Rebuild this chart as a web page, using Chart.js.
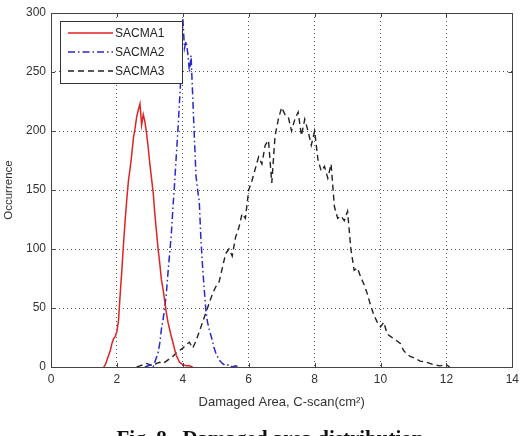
<!DOCTYPE html>
<html>
<head>
<meta charset="utf-8">
<script src="https://cdn.jsdelivr.net/npm/chart.js@4/dist/chart.umd.min.js"></script>
<style>
  html, body { margin: 0; padding: 0; background: #fff; }
  #wrap { width: 524px; height: 436px; }
</style>
</head>
<body>
<div id="wrap"><canvas id="damage-chart"></canvas></div>
<script>
// SACMA1 - damaged area (cm^2) and occurrence
const sacma1X = [1.60, 1.65, 1.70, 1.75, 1.80, 1.85, 1.90, 1.95, 2.00, 2.05, 2.10, 2.15, 2.20, 2.25,
  2.30, 2.35, 2.40, 2.45, 2.50, 2.55, 2.60, 2.65, 2.70, 2.75, 2.80, 2.85, 2.90, 2.95, 3.00, 3.05,
  3.10, 3.15, 3.20, 3.25, 3.30, 3.35, 3.40, 3.45, 3.50, 3.55, 3.60, 3.65, 3.70, 3.75, 3.80, 3.85,
  3.90, 3.95, 4.00, 4.10, 4.20, 4.30];
const sacma1Y = [0, 2, 6, 10, 14, 20, 24, 26, 30, 40, 62, 82, 104, 124,
  142, 158, 168, 180, 194, 202, 212, 218, 223, 205, 214, 208, 198, 186, 172, 160,
  148, 130, 115, 100, 88, 74, 66, 56, 46, 38, 32, 26, 21, 15, 10, 7,
  4, 3, 2, 1, 1, 0];

// SACMA2
const sacma2X = [2.85, 2.95, 3.05, 3.10, 3.15, 3.20, 3.25, 3.30, 3.35, 3.40, 3.45, 3.50, 3.55, 3.60,
  3.65, 3.70, 3.75, 3.80, 3.85, 3.90, 3.95, 4.00, 4.05, 4.10, 4.15, 4.20, 4.25, 4.30, 4.35, 4.40,
  4.45, 4.50, 4.55, 4.60, 4.65, 4.70, 4.75, 4.80, 4.85, 4.90, 4.95, 5.00, 5.05, 5.10, 5.20, 5.30,
  5.40, 5.50, 5.60, 5.70];
const sacma2Y = [0, 1, 2, 0, 4, 8, 12, 20, 32, 40, 50, 62, 80, 96,
  112, 135, 155, 178, 200, 225, 250, 296, 270, 276, 266, 250, 264, 230, 195, 162,
  150, 140, 108, 85, 66, 48, 38, 32, 27, 22, 16, 12, 9, 6, 3, 1,
  2, 0, 1, 0];

// SACMA3
const sacma3X = [2.6, 2.7, 2.8, 2.9, 3.0, 3.1, 3.2, 3.3, 3.4, 3.5, 3.6, 3.7, 3.8, 3.9, 4.0, 4.1, 4.2,
  4.3, 4.4, 4.5, 4.6, 4.7, 4.8, 4.9, 5.0, 5.1, 5.2, 5.3, 5.4, 5.5, 5.6, 5.7, 5.8, 5.9, 6.0, 6.1,
  6.2, 6.3, 6.4, 6.5, 6.6, 6.7, 6.8, 6.9, 7.0, 7.1, 7.2, 7.3, 7.4, 7.5, 7.6, 7.7, 7.8, 7.9, 8.0,
  8.1, 8.2, 8.3, 8.4, 8.5, 8.6, 8.7, 8.8, 8.9, 9.0, 9.1, 9.2, 9.3, 9.4, 9.5, 9.6, 9.7, 9.8, 9.9,
  10.0, 10.1, 10.2, 10.3, 10.4, 10.5, 10.6, 10.7, 10.8, 10.9, 11.0, 11.2, 11.4, 11.6, 11.8, 12.0, 12.1];
const sacma3Y = [0, 1, 2, 3, 2, 1, 3, 4, 3, 5, 7, 9, 12, 14, 16, 19, 21,
  16, 22, 30, 38, 46, 54, 62, 68, 72, 84, 96, 100, 94, 110, 118, 130, 126, 150, 158,
  168, 178, 172, 188, 192, 156, 196, 210, 220, 214, 212, 200, 210, 216, 196, 210, 200, 188, 200,
  176, 166, 170, 160, 172, 136, 126, 128, 124, 132, 100, 82, 84, 76, 70, 62, 52, 44, 38,
  34, 38, 28, 26, 24, 22, 20, 14, 11, 9, 8, 5, 4, 2, 1, 2, 0];

// axis ticks
const xTicks = [0, 2, 4, 6, 8, 10, 12, 14];
const yTicks = [0, 50, 100, 150, 200, 250, 300];

const seriesNames = ["SACMA1", "SACMA2", "SACMA3"];
const caption = "Fig. 8.  Damaged area distribution";

function toPoints(xs, ys) {
  return xs.map((x, i) => ({ x: x, y: ys[i] }));
}

const sans = "'Liberation Sans', Arial, sans-serif";
const tickFont = { family: sans, size: 12 };

// frame, inner tick marks, legend box and caption (MATLAB look)
const matlabDecor = {
  id: "matlabDecor",
  afterDraw(chart) {
    const ctx = chart.ctx;
    const a = chart.chartArea;
    const xs = chart.scales.x, ys = chart.scales.y;
    ctx.save();
    ctx.strokeStyle = "#444";
    ctx.lineWidth = 1;
    ctx.setLineDash([]);
    ctx.strokeRect(Math.round(a.left) + 0.5, Math.round(a.top) + 0.5,
      Math.round(a.right - a.left), Math.round(a.bottom - a.top));
    ctx.beginPath();
    xTicks.forEach(v => {
      const px = Math.round(xs.getPixelForValue(v)) + 0.5;
      ctx.moveTo(px, a.bottom); ctx.lineTo(px, a.bottom - 4);
      ctx.moveTo(px, a.top); ctx.lineTo(px, a.top + 4);
    });
    yTicks.forEach(v => {
      const py = Math.round(ys.getPixelForValue(v)) + 0.5;
      ctx.moveTo(a.left, py); ctx.lineTo(a.left + 4, py);
      ctx.moveTo(a.right, py); ctx.lineTo(a.right - 4, py);
    });
    ctx.stroke();

    // legend
    const lx = 60.5, ly = 21.5, lw = 122, lh = 62;
    ctx.fillStyle = "#fff";
    ctx.fillRect(lx, ly, lw, lh);
    ctx.strokeStyle = "#333";
    ctx.strokeRect(lx, ly, lw, lh);
    const rows = [33, 52, 71];
    chart.data.datasets.forEach((ds, i) => {
      ctx.strokeStyle = ds.borderColor;
      ctx.lineWidth = ds.borderWidth;
      ctx.setLineDash(ds.borderDash || []);
      ctx.beginPath();
      ctx.moveTo(68, rows[i]);
      ctx.lineTo(113, rows[i]);
      ctx.stroke();
      ctx.setLineDash([]);
      ctx.fillStyle = "#222";
      ctx.font = "12px " + sans;
      ctx.textBaseline = "middle";
      ctx.textAlign = "left";
      ctx.fillText(ds.label, 115, rows[i] + 1);
    });

    // figure caption, cut at the bottom edge like the source
    ctx.fillStyle = "#111";
    ctx.font = "bold 21px 'Liberation Serif', 'Times New Roman', serif";
    ctx.textAlign = "center";
    ctx.textBaseline = "top";
    ctx.fillText(caption, 270, 429);
    ctx.restore();
  }
};

new Chart("damage-chart", {
  type: "line",
  data: {
    datasets: [
      {
        label: seriesNames[0],
        data: toPoints(sacma1X, sacma1Y),
        borderColor: "rgb(222, 35, 35)",
        borderWidth: 1.5
      },
      {
        label: seriesNames[1],
        data: toPoints(sacma2X, sacma2Y),
        borderColor: "rgb(40, 40, 205)",
        borderWidth: 1.5,
        borderDash: [7, 3, 1.5, 3]
      },
      {
        label: seriesNames[2],
        data: toPoints(sacma3X, sacma3Y),
        borderColor: "#222",
        borderWidth: 1.4,
        borderDash: [6, 4]
      }
    ]
  },
  options: {
    responsive: true,
    maintainAspectRatio: false,
    animation: false,
    layout: { padding: { top: 13, right: 10, bottom: 0, left: 0 } },
    elements: { point: { radius: 0 }, line: { tension: 0, fill: false } },
    plugins: {
      legend: { display: false },
      tooltip: { enabled: false }
    },
    scales: {
      x: {
        type: "linear",
        min: 0,
        max: 14,
        afterFit: s => { s.height = 69; },
        afterBuildTicks: s => { s.ticks = xTicks.map(v => ({ value: v })); },
        ticks: { font: tickFont, color: "#333", padding: 5, maxRotation: 0 },
        grid: { color: "#555", drawTicks: false },
        border: { display: false, dash: [1, 3] },
        title: {
          display: true,
          text: "Damaged Area, C-scan(cm²)",
          font: { family: sans, size: 13 },
          color: "#333",
          padding: { top: 0, bottom: 26 }
        }
      },
      y: {
        min: 0,
        max: 300,
        afterFit: s => { s.width = 51; },
        afterBuildTicks: s => { s.ticks = yTicks.map(v => ({ value: v })); },
        ticks: { font: tickFont, color: "#333", padding: 5 },
        grid: { color: "#555", drawTicks: false },
        border: { display: false, dash: [1, 3] },
        title: {
          display: true,
          text: "Occurrence",
          font: { family: sans, size: 11.5 },
          color: "#333",
          padding: { top: 2, bottom: 0 }
        }
      }
    }
  },
  plugins: [matlabDecor]
});
</script>
</body>
</html>
